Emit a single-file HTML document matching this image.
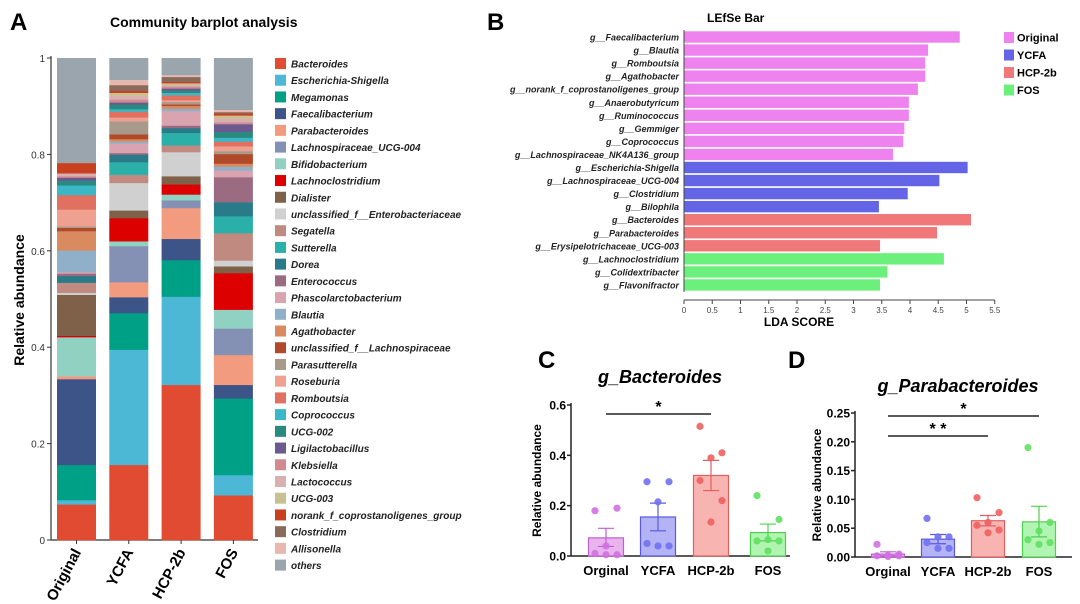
<!DOCTYPE html>
<html><head><meta charset="utf-8">
<style>
html,body{margin:0;padding:0;background:#fff;}
svg{display:block;font-family:"Liberation Sans",sans-serif;}
</style></head>
<body>
<svg id="fig" width="1080" height="604" viewBox="0 0 1080 604"></svg>
<script>
// ===== Panel A data =====
const aGroups = ["Original","YCFA","HCP-2b","FOS"];
const aTaxa = ["Bacteroides","Escherichia-Shigella","Megamonas","Faecalibacterium","Parabacteroides","Lachnospiraceae_UCG-004","Bifidobacterium","Lachnoclostridium","Dialister","unclassified_f__Enterobacteriaceae","Segatella","Sutterella","Dorea","Enterococcus","Phascolarctobacterium","Blautia","Agathobacter","unclassified_f__Lachnospiraceae","Parasutterella","Roseburia","Romboutsia","Coprococcus","UCG-002","Ligilactobacillus","Klebsiella","Lactococcus","UCG-003","norank_f_coprostanoligenes_group","Clostridium","Allisonella","others"];
const aColors = ["#e14b32","#4cb8d5","#00a087","#3c5488","#f39b7f","#8491b4","#91d1c2","#dc0000","#7e6148","#d0d0d0","#c08a80","#2ab0a8","#2a7b8a","#9b6b82","#d9a3b0","#8fb0c8","#d98a5f","#b04a2a","#a89a8a","#f0a090","#e07060","#3ab8c8","#2a8a80","#6a5a90","#d08a90","#d8b0b0","#c8c090","#c84020","#8a6a5a","#e8b8b0","#9aa5ad"];
const aOriginal = [0.074,0.009,0.073,0.178,0.006,0.0,0.081,0.003,0.085,0.004,0.021,0.0,0.014,0.005,0.003,0.045,0.04,0.007,0.003,0.035,0.03,0.02,0.01,0.006,0.003,0.006,0.0,0.021,0.0,0.0];
const aYCFA = [0.156,0.239,0.076,0.033,0.031,0.075,0.01,0.048,0.016,0.057,0.017,0.026,0.016,0.003,0.02,0.004,0.005,0.01,0.027,0.008,0.012,0.005,0.01,0.004,0.006,0.008,0.006,0.004,0.012,0.01];
const aHCP = [0.322,0.183,0.076,0.044,0.064,0.016,0.012,0.021,0.017,0.05,0.014,0.026,0.01,0.005,0.03,0.005,0.006,0.003,0.005,0.004,0.01,0.005,0.005,0.004,0.004,0.003,0.004,0.003,0.01,0.003];
const aFOS = [0.093,0.042,0.159,0.028,0.062,0.055,0.039,0.076,0.014,0.012,0.057,0.035,0.029,0.052,0.014,0.008,0.006,0.02,0.006,0.01,0.01,0.008,0.012,0.016,0.004,0.008,0.006,0.004,0.003,0.004];
const aTicks = [0,0.2,0.4,0.6,0.8,1];
// ===== Panel B data =====
const bTaxa = ["g__Faecalibacterium","g__Blautia","g__Romboutsia","g__Agathobacter","g__norank_f_coprostanoligenes_group","g__Anaerobutyricum","g__Ruminococcus","g__Gemmiger","g__Coprococcus","g__Lachnospiraceae_NK4A136_group","g__Escherichia-Shigella","g__Lachnospiraceae_UCG-004","g__Clostridium","g__Bilophila","g__Bacteroides","g__Parabacteroides","g__Erysipelotrichaceae_UCG-003","g__Lachnoclostridium","g__Colidextribacter","g__Flavonifractor"];
const bScores = [4.88,4.32,4.27,4.27,4.14,3.98,3.98,3.9,3.88,3.7,5.02,4.52,3.96,3.45,5.08,4.48,3.47,4.6,3.6,3.47];
const bGroupIdx = [0,0,0,0,0,0,0,0,0,0,1,1,1,1,2,2,2,3,3,3];
const bGroups = ["Original","YCFA","HCP-2b","FOS"];
const bTicks = [0,0.5,1,1.5,2,2.5,3,3.5,4,4.5,5,5.5];
// ===== Panel C/D data =====
const cdGroups = ["Orginal","YCFA","HCP-2b","FOS"];
const cMeans = [0.072,0.155,0.32,0.093];
const cErrHi = [0.11,0.21,0.38,0.127];
const cErrLo = [0.038,0.1,0.26,0.06];
const cPoints = [[0.18,0.19,0.04,0.01,0.005,0.005],[0.295,0.295,0.215,0.05,0.04,0.04],[0.515,0.41,0.39,0.3,0.22,0.135],[0.24,0.145,0.065,0.06,0.06,0.02]];
const cTicks = [0,0.2,0.4,0.6];
const cTickLabels = ["0.0","0.2","0.4","0.6"];
const dMeans = [0.005,0.031,0.063,0.061];
const dErrHi = [0.009,0.039,0.072,0.088];
const dErrLo = [0.002,0.023,0.054,0.035];
const dPoints = [[0.022,0.005,0.003,0.002,0.002,0.001],[0.067,0.035,0.035,0.025,0.015,0.015],[0.103,0.077,0.06,0.055,0.047,0.042],[0.19,0.06,0.045,0.03,0.025,0.022]];
const dTicks = [0,0.05,0.1,0.15,0.2,0.25];
const dTickLabels = ["0.00","0.05","0.10","0.15","0.20","0.25"];
const fillCol = ["#e9b3ee","#b3b3f5","#f8b4b0","#b2f5b2"];
const edgeCol = ["#c060d0","#5a5ae0","#e06060","#50d050"];
const ptCol = ["#d070e0","#7070ee","#ee6060","#60e060"];

const NS="http://www.w3.org/2000/svg";
const svg=document.getElementById('fig');
function mk(tag,attrs,parent){const e=document.createElementNS(NS,tag);for(const k in attrs)e.setAttribute(k,attrs[k]);(parent||svg).appendChild(e);return e;}
function txt(s,attrs,parent){const e=mk('text',attrs,parent);e.textContent=s;return e;}

// ===== Panel A =====
const gA=mk('g',{});


let t=txt('A',{x:10,y:30,'font-size':24,'font-weight':'bold'},gA);


t=txt('Community barplot analysis',{x:110,y:27,'font-size':14,'font-weight':'bold'},gA);


const aY0=540,aY1=58;
function ay(v){return aY0-(aY0-aY1)*v;}
function ax(i){return 57+i*52.3;}
const aW=39;
let ln=mk('line',{x1:51,y1:aY1-2,x2:51,y2:aY0,stroke:'#333','stroke-width':1.2},gA);


ln=mk('line',{x1:51,y1:aY0,x2:258,y2:aY0,stroke:'#333','stroke-width':1.2},gA);


aTicks.forEach(v=>{
  const l=mk('line',{x1:47,x2:51,y1:ay(v),y2:ay(v),stroke:'#333'},gA);
  
  
  const tt=txt(String(v),{x:45,y:ay(v)+4,'font-size':10,'text-anchor':'end',fill:'#333'},gA);
  
  
});
t=txt('Relative abundance',{x:0,y:0,'font-size':14,'font-weight':'bold','text-anchor':'middle',transform:'translate(24,300) rotate(-90)'},gA);


[aOriginal,aYCFA,aHCP,aFOS].forEach((arr,i)=>{
  let cum=0;
  arr.forEach((v,k)=>{
    if(v<=0)return;
    const r=mk('rect',{x:ax(i),y:ay(cum+v),width:aW,height:ay(cum)-ay(cum+v)+0.3,fill:aColors[k]},gA);
    
    
    cum+=v;
  });
  const r=mk('rect',{x:ax(i),y:ay(1),width:aW,height:ay(cum)-ay(1),fill:aColors[30]},gA);
  
  
  const cx=ax(i)+aW/2;
  const l=mk('line',{x1:cx,x2:cx,y1:aY0,y2:aY0+4,stroke:'#333'},gA);
  
  
  const tt=txt(aGroups[i],{x:0,y:0,'font-size':15,'font-weight':'bold','text-anchor':'end',transform:`translate(${cx+5},${aY0+12}) rotate(-62)`},gA);
  
  
});
aTaxa.forEach((n,k)=>{
  const y=58+k*16.72;
  const r=mk('rect',{x:275,y:y,width:11,height:11,fill:aColors[k]},gA);
  
  
  const tt=txt(n,{x:291,y:y+9.5,'font-size':10,'font-weight':'bold','font-style':'italic',fill:'#222'},gA);
  
  
});

// ===== Panel B =====
const gB=mk('g',{});


t=txt('B',{x:487,y:30,'font-size':24,'font-weight':'bold'},gB);


t=txt('LEfSe Bar',{x:707,y:22,'font-size':12,'font-weight':'bold'},gB);


const bX0=684,bPx=56.5;
function bx(v){return bX0+v*bPx;}
function by(i){return 37+i*13.05;}
const bCols=["#ee82ee","#6464e6","#f07878","#6cf07c"];
bTaxa.forEach((n,i)=>{
  const r=mk('rect',{x:bx(0),y:by(i)-5.7,width:bx(bScores[i])-bx(0),height:11.4,fill:bCols[bGroupIdx[i]]},gB);
  
  
  const tt=txt(n,{x:679,y:by(i)+3.5,'font-size':9,'font-weight':'bold','font-style':'italic','text-anchor':'end',fill:'#222'},gB);
  
  
});
ln=mk('line',{x1:bX0,x2:bX0,y1:30,y2:292,stroke:'#444'},gB);


ln=mk('line',{x1:bX0,x2:bx(5.5),y1:300,y2:300,stroke:'#444'},gB);


bTicks.forEach(v=>{
  const l=mk('line',{x1:bx(v),x2:bx(v),y1:300,y2:304,stroke:'#444'},gB);
  
  
  const tt=txt(String(v),{x:bx(v),y:313,'font-size':8,'text-anchor':'middle',fill:'#444'},gB);
  
  
});
t=txt('LDA SCORE',{x:799,y:326,'font-size':12,'font-weight':'bold','text-anchor':'middle'},gB);


bGroups.forEach((g,k)=>{
  const y=33+k*17.5;
  const r=mk('rect',{x:1004,y:y-1,width:10,height:11,fill:bCols[k]},gB);
  
  
  const tt=txt(g,{x:1017,y:y+8.5,'font-size':11,'font-weight':'bold'},gB);
  
  
});

// ===== Panels C & D =====
function dotPanel(cfg){
  const g=mk('g',{});
  
  
  const yv=v=>cfg.y0-(cfg.y0-cfg.yTop)*v/cfg.max;
  let tt=txt(cfg.letter,{x:cfg.lx,y:cfg.ly,'font-size':24,'font-weight':'bold'},g);
  
  
  tt=txt(cfg.title,{x:cfg.tx,y:cfg.ty,'font-size':18,'font-weight':'bold','font-style':'italic','text-anchor':'middle'},g);
  
  
  let l=mk('line',{x1:cfg.ax,x2:cfg.ax,y1:cfg.yTop-2,y2:cfg.y0,stroke:'#222','stroke-width':1.5},g);
  
  
  l=mk('line',{x1:cfg.ax,x2:cfg.axEnd,y1:cfg.y0,y2:cfg.y0,stroke:'#222','stroke-width':1.5},g);
  
  
  cfg.ticks.forEach((v,i)=>{
    const tl=mk('line',{x1:cfg.ax-4,x2:cfg.ax,y1:yv(v),y2:yv(v),stroke:'#222','stroke-width':1.5},g);
    
    
    const tx=txt(cfg.tickLabels[i],{x:cfg.ax-5,y:yv(v)+4.5,'font-size':12,'font-weight':'bold','text-anchor':'end'},g);
    
    
  });
  tt=txt('Relative abundance',{x:0,y:0,'font-size':12,'font-weight':'bold','text-anchor':'middle',transform:`translate(${cfg.ylx},${(cfg.y0+cfg.yTop)/2}) rotate(-90)`},g);
  
  
  cdGroups.forEach((gn,i)=>{
    const cx=cfg.cx[i],w=cfg.bw;
    const r=mk('rect',{x:cx-w/2,y:yv(cfg.means[i]),width:w,height:cfg.y0-yv(cfg.means[i]),fill:fillCol[i],stroke:edgeCol[i],'stroke-width':1.2},g);
    
    
    const e=mk('path',{d:`M${cx},${yv(cfg.hi[i])}V${yv(cfg.lo[i])}M${cx-8},${yv(cfg.hi[i])}H${cx+8}M${cx-8},${yv(cfg.lo[i])}H${cx+8}`,stroke:edgeCol[i],'stroke-width':1.2,fill:'none'},g);
    
    
    cfg.pts[i].forEach((v,k)=>{
      const off=[-11,11,0,-11,11,0][k%6];
      const c=mk('circle',{cx:cx+off,cy:yv(v),r:3.6,fill:ptCol[i],opacity:0.9},g);
      
      
    });
    const xl=txt(gn,{x:cx,y:cfg.y0+19,'font-size':13,'font-weight':'bold','text-anchor':'middle'},g);
    
    
  });
  cfg.sig.forEach(s=>{
    const sl=mk('line',{x1:cfg.cx[s.a],x2:cfg.cx[s.b],y1:s.y,y2:s.y,stroke:'#222','stroke-width':1.5},g);
    
    
    const st=txt(s.label,{x:(cfg.cx[s.a]+cfg.cx[s.b])/2,y:s.y-2,'font-size':16,'font-weight':'bold','text-anchor':'middle'},g);
    
    
  });
}
dotPanel({name:'panel-c-bacteroides',letter:'C',lx:538,ly:368,title:'g_Bacteroides',tx:660,ty:383,ax:571,axEnd:790,y0:556,yTop:405,max:0.6,ticks:cTicks,tickLabels:cTickLabels,ylx:541,bw:35,cx:[606,658,711,768],means:cMeans,hi:cErrHi,lo:cErrLo,pts:cPoints,sig:[{a:0,b:2,y:414,label:'*'}]});
dotPanel({name:'panel-d-parabacteroides',letter:'D',lx:788,ly:368,title:'g_Parabacteroides',tx:958,ty:392,ax:855,axEnd:1072,y0:557,yTop:413,max:0.25,ticks:dTicks,tickLabels:dTickLabels,ylx:821,bw:33,cx:[888,938,988,1039],means:dMeans,hi:dErrHi,lo:dErrLo,pts:dPoints,sig:[{a:0,b:3,y:416,label:'*'},{a:0,b:2,y:436,label:'* *'}]});
</script>
</body></html>
